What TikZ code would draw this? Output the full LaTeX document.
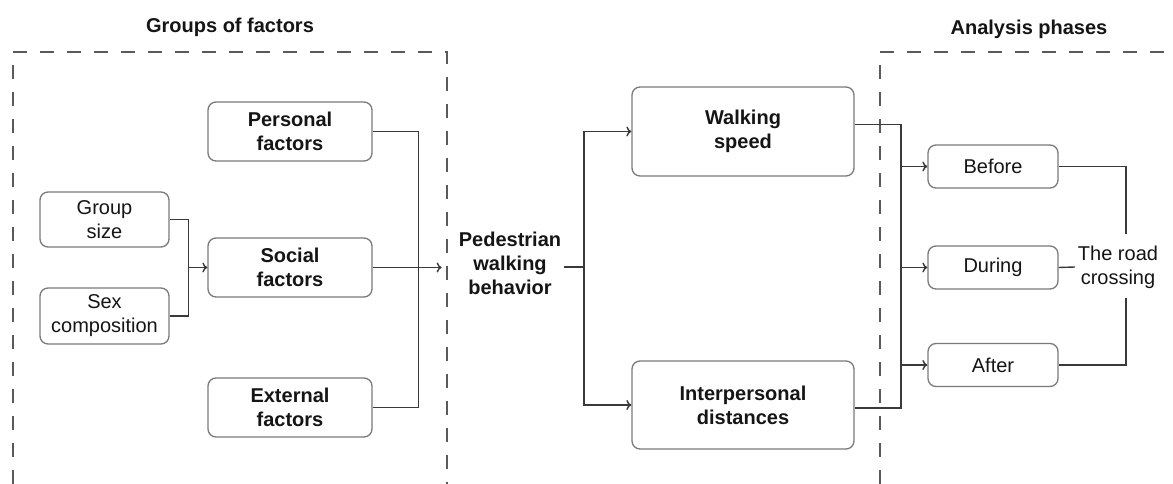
\documentclass[tikz,border=0pt]{standalone}
\usepackage{fontspec}
\setmainfont{Liberation Sans}
\usetikzlibrary{arrows.meta}
\definecolor{boxline}{HTML}{7A7A7A}
\definecolor{conn}{HTML}{3A3A3A}
\definecolor{frame}{HTML}{5A5A5A}
\definecolor{txt}{HTML}{151515}
\tikzset{
  fbox/.style={draw=boxline, line width=1.3pt, rounded corners=8pt, text=txt,
    align=center, inner sep=0pt, font=\fontsize{20}{24}\selectfont},
  plain/.style={text=txt, align=center, inner sep=3pt, font=\fontsize{20}{24}\selectfont},
  conn/.style={draw=conn, line width=1.4pt},
  arr/.style={conn, -{To[length=5pt,width=10pt,line width=1.4pt]}},
  dframe/.style={draw=frame, line width=1.2pt, dash pattern=on 14pt off 13pt},
}
\begin{document}
\begin{tikzpicture}[x=1pt,y=-1pt]
\useasboundingbox[fill=white] (0,0) rectangle (1173,484);
% frames
\draw[dframe] (13,484) -- (13,52) -- (447,52) -- (447,484);
\draw[dframe] (880,484) -- (880,52) -- (1173,52);
\node[plain, font=\bfseries\fontsize{20}{24}\selectfont] (t1) at (230,27) {Groups of factors};
\node[plain, font=\bfseries\fontsize{20}{24}\selectfont] (t2) at (1029,29) {Analysis phases};
% left boxes
\node[fbox, minimum width=164pt, minimum height=59pt, font=\bfseries\fontsize{20}{24}\selectfont] (pf) at (290,131.5) {Personal\\factors};
\node[fbox, minimum width=164pt, minimum height=59pt, font=\bfseries\fontsize{20}{24}\selectfont] (sf) at (290,267.5) {Social\\factors};
\node[fbox, minimum width=164pt, minimum height=59pt, font=\bfseries\fontsize{20}{24}\selectfont] (ef) at (290,407.5) {External\\factors};
\node[fbox, minimum width=129pt, minimum height=55pt] (gs) at (104.5,219.5) {Group\\size};
\node[fbox, minimum width=129pt, minimum height=56pt] (sx) at (104.5,316) {Sex\\composition};
% middle
\node[plain, font=\bfseries\fontsize{20}{24}\selectfont] (pw) at (510,263) {Pedestrian\\walking\\behavior};
\node[fbox, minimum width=222pt, minimum height=89pt, font=\bfseries\fontsize{20}{24}\selectfont] (ws) at (743,131.5) {Walking\\speed};
\node[fbox, minimum width=222pt, minimum height=88pt, font=\bfseries\fontsize{20}{24}\selectfont] (ip) at (743,405) {Interpersonal\\distances};
% right
\node[fbox, minimum width=130pt, minimum height=43pt] (bf) at (993,166.5) {Before};
\node[fbox, minimum width=130pt, minimum height=43pt] (df) at (993,267.5) {During};
\node[fbox, minimum width=130pt, minimum height=43pt] (af) at (993,365) {After};
\node[plain] (rc) at (1118,267) {The road\\crossing};
% junction coordinates
\coordinate (j1) at (188,267.5);
\coordinate (j2) at (584,267);
\coordinate (j3) at (901,267.5);
\coordinate (rt) at (1126,234);
\coordinate (rb) at (1126,298);
% connectors left
\draw[conn] (gs.east) -- ++(19,0) |- (sx.east);
\draw[arr] (j1) -- (sf.west);
\draw[conn] (pf.east) -- ++(46,0) |- (ef.east);
\draw[arr] (sf.east) -- ([xshift=-14pt]pw.west |- sf.east);
% middle
\draw[conn] (pw.east |- j2) -- (j2);
\draw[arr] (j2) |- (ws.west);
\draw[arr] (j2) |- (ip.west);
% right
\draw[conn] ([yshift=7pt]ws.east) -| (j3) |- ([yshift=-3pt]ip.east);
\draw[arr] (j3 |- bf.west) -- (bf.west);
\draw[arr] (j3 |- df.west) -- (df.west);
\draw[arr] (j3 |- af.west) -- (af.west);
\draw[conn] (bf.east) -| (rt);
\draw[conn] (af.east) -| (rb);
\draw[conn] (df.east) -- (rc.west);
\end{tikzpicture}
\end{document}
